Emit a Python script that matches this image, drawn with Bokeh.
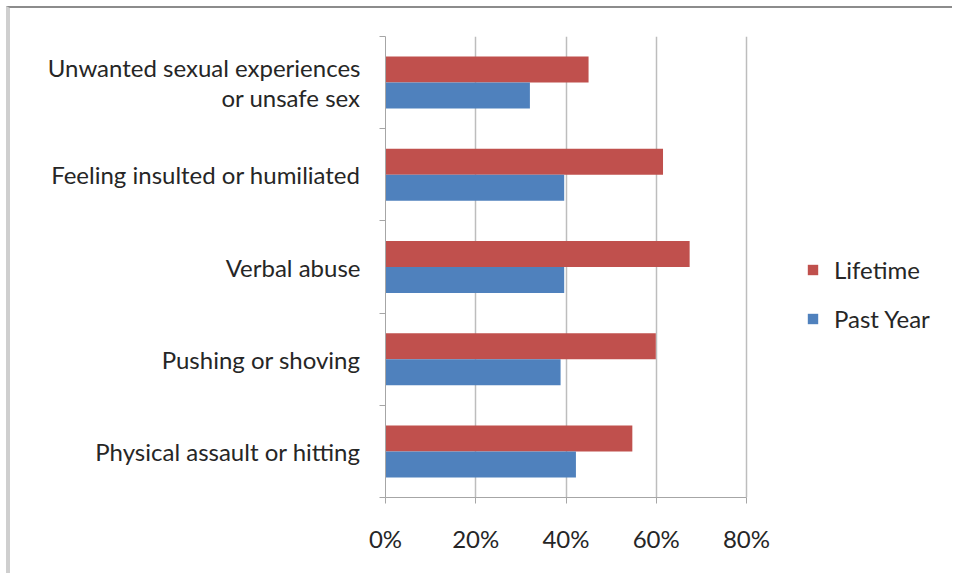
from bokeh.plotting import figure
from bokeh.models import Range1d, FixedTicker, Legend, LegendItem, ColumnDataSource
from bokeh.embed import file_html
from bokeh.resources import INLINE

# ---- data ----
categories = [
    "Physical assault or hitting",
    "Pushing or shoving",
    "Verbal abuse",
    "Feeling insulted or humiliated",
    "Unwanted sexual experiences\nor unsafe sex",
]
lifetime = [0.547, 0.599, 0.674, 0.615, 0.450]
past_year = [0.422, 0.388, 0.396, 0.396, 0.320]
x_ticks = [0.0, 0.2, 0.4, 0.6, 0.8]
x_tick_labels = ["0%", "20%", "40%", "60%", "80%"]
series_names = ["Lifetime", "Past Year"]
series_colors = ["#C0504D", "#4F81BD"]

FONT = "Lato"
FS = "24px"
TEXT = "#262626"
n = len(categories)
centers = [i + 0.5 for i in range(n)]
bar_h = 0.282
x_max = x_ticks[-1]

W, H = 946, 567
LEFT = 375
frame_w = W - LEFT
x_end = x_max * frame_w / 361.0   # 0..80 % spans 361 px, frame continues to the right

src = ColumnDataSource(dict(
    y_life=[c + bar_h / 2 for c in centers],
    y_past=[c - bar_h / 2 for c in centers],
    lifetime=lifetime,
    past_year=past_year,
))

p = figure(width=W, height=H, output_backend="svg", toolbar_location=None,
           x_range=Range1d(0, x_end), y_range=Range1d(0, n),
           min_border_left=LEFT, min_border_right=0,
           min_border_top=28, min_border_bottom=78)
p.styles = {"margin-top": "6px", "margin-left": "6px",
            "border-top": "2px solid #8c8c8c", "border-left": "4px solid #cfcfcf"}
p.outline_line_color = None
p.background_fill_color = "white"
p.border_fill_color = "white"

r_life = p.hbar(y="y_life", left=0, right="lifetime", height=bar_h, source=src,
                fill_color=series_colors[0], line_color=None)
r_past = p.hbar(y="y_past", left=0, right="past_year", height=bar_h, source=src,
                fill_color=series_colors[1], line_color=None)

# x axis
p.xaxis.ticker = FixedTicker(ticks=x_ticks)
p.xaxis.bounds = (0, x_max)
p.xaxis.major_label_overrides = {t: l for t, l in zip(x_ticks, x_tick_labels)}
p.xaxis.minor_tick_line_color = None
p.xaxis.major_tick_in = 0
p.xaxis.major_tick_out = 6
p.xaxis.major_tick_line_color = "#a6a6a6"
p.xaxis.axis_line_color = "#a6a6a6"
p.xaxis.major_label_standoff = 20
p.xaxis.major_label_text_font = FONT
p.xaxis.major_label_text_font_size = FS
p.xaxis.major_label_text_color = TEXT

# y axis: labels at category centres, ticks at category boundaries
p.yaxis.ticker = FixedTicker(ticks=centers, minor_ticks=list(range(n + 1)))
p.yaxis.major_label_overrides = {c: name for c, name in zip(centers, categories)}
p.yaxis.major_tick_line_color = None
p.yaxis.major_tick_in = 0
p.yaxis.major_tick_out = 0
p.yaxis.minor_tick_in = 0
p.yaxis.minor_tick_out = 6
p.yaxis.minor_tick_line_color = "#a6a6a6"
p.yaxis.axis_line_color = "#a6a6a6"
p.yaxis.major_label_standoff = 19
p.yaxis.major_label_text_font = FONT
p.yaxis.major_label_text_font_size = FS
p.yaxis.major_label_text_color = TEXT
p.yaxis.major_label_text_line_height = 1.05

p.xgrid.ticker = FixedTicker(ticks=x_ticks)
p.xgrid.bounds = (0, x_max)
p.xgrid.grid_line_color = "#bdbdbd"
p.xgrid.grid_line_width = 1.5
p.ygrid.grid_line_color = None

legend = Legend(items=[LegendItem(label=series_names[0], renderers=[r_life]),
                       LegendItem(label=series_names[1], renderers=[r_past])],
                location=(421, 164), orientation="vertical",
                glyph_width=13, glyph_height=13, label_height=24, spacing=20,
                label_standoff=15, padding=0, margin=0,
                border_line_color=None, background_fill_alpha=0,
                label_text_font=FONT, label_text_font_size=FS,
                label_text_color=TEXT)
p.add_layout(legend, "center")

open("out.html", "w").write(file_html(p, INLINE))
